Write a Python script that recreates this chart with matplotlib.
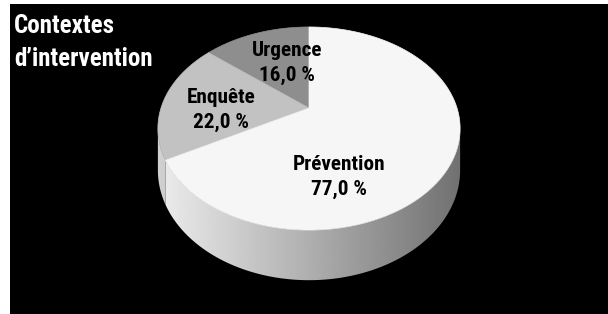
# Contextes d'intervention - 3D pie, grey on black
import numpy as np
import matplotlib
matplotlib.use('Agg')
import matplotlib.pyplot as plt
from matplotlib.patches import Polygon, Rectangle

# data
categories = ['Urgence', 'Enquête', 'Prévention']
values = [16.0, 22.0, 77.0]
title_lines = ['Contextes', 'd’intervention']

# look
top_colors = ['#8e8e8e', '#c2c2c2', '#f6f6f6']
side_shade = [0.70, 0.88, 1.0]
font = ['Roboto Condensed', 'Archivo Narrow', 'DejaVu Sans']

# geometry of the pie in pixels (y down)
cx, cy = 309.0, 108.0
R = 148.0
Rs = 97.4
k = 4.95
H = 40.0
start = 90.0

# label anchor (centre of the two lines), pixels
label_pos = [(287, 63), (221, 110), (339, 177)]


def proj(t, z=0.0):
    X = np.cos(t)
    Y = np.sin(t)
    f = k / (k + Y)
    return cx + R * X * f, cy - Rs * Y * f + z * f


fig = plt.figure(figsize=(6.08, 3.14), dpi=100)
fig.patch.set_facecolor('white')
ax = fig.add_axes([0, 0, 1, 1])
ax.set_xlim(0, 608)
ax.set_ylim(314, 0)
ax.axis('off')
ax.add_patch(Rectangle((10, 4), 600, 312, facecolor='black', edgecolor='none', zorder=0))

vals = np.array(values)
angles = vals / vals.sum() * 360.0
edges = start + np.concatenate([[0], np.cumsum(angles)])

# silhouette tangent angles
tt = np.radians(np.linspace(0, 360, 3601))
xs, _ = proj(tt)
t_right = np.degrees(tt[np.argmax(xs)])
t_left = np.degrees(tt[np.argmin(xs)])
if t_right < t_left:
    t_right += 360.0

# sides
grad = np.linspace(0.93, 0.44, 256)[None, :]
for i in range(len(values)):
    a0, a1 = edges[i], edges[i + 1]
    s0, s1 = max(a0, t_left), min(a1, t_right)
    if s1 <= s0:
        continue
    t = np.radians(np.linspace(s0, s1, 200))
    xt, yt = proj(t)
    xb, yb = proj(t[::-1], H)
    pts = np.column_stack([np.concatenate([xt, xb]), np.concatenate([yt, yb])])
    poly = Polygon(pts, closed=True, facecolor='none', edgecolor='none')
    ax.add_patch(poly)
    im = ax.imshow(grad * side_shade[i], cmap='gray', vmin=0, vmax=1, aspect='auto',
                   extent=[cx - R * 1.03, cx + R * 1.03, 300, 0], zorder=1,
                   interpolation='bilinear')
    im.set_clip_path(poly)

# top faces
for i in range(len(values)):
    t = np.radians(np.linspace(edges[i], edges[i + 1], 300))
    xt, yt = proj(t)
    pts = np.column_stack([np.concatenate([[cx], xt]), np.concatenate([[cy], yt])])
    ax.add_patch(Polygon(pts, closed=True, facecolor=top_colors[i],
                         edgecolor=top_colors[i], lw=0.5, zorder=2))

# labels
for i, name in enumerate(categories):
    pct = f'{values[i]:.1f}'.replace('.', ',') + ' %'
    x, y = label_pos[i]
    ax.text(x, y, name + '\n' + pct, ha='center', va='center', fontsize=15.3,
            fontweight='heavy', family=font, color='black', linespacing=1.4, zorder=3)

# title
ax.text(14, 33, title_lines[0], ha='left', va='baseline', fontsize=18, fontweight='heavy',
        family=font, color='white')
ax.text(14, 66, title_lines[1], ha='left', va='baseline', fontsize=18, fontweight='heavy',
        family=font, color='white')

fig.savefig('out.png', dpi=100, facecolor=fig.get_facecolor())
